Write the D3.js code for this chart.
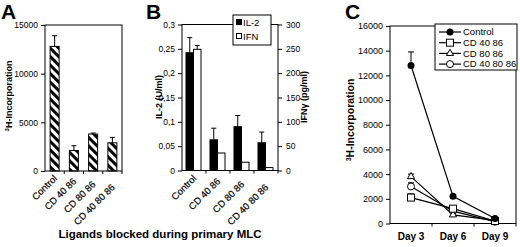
<!DOCTYPE html>
<html>
<head>
<meta charset="utf-8">
<script src="https://cdn.jsdelivr.net/npm/d3@7"></script>
<style>
body { margin: 0; background: #fff; }
svg { display: block; font-family: "Liberation Sans", Arial, sans-serif; }
</style>
</head>
<body>
<div id="chart"></div>
<script>
// data
var ligands = ["Control", "CD 40 86", "CD 80 86", "CD 40 80 86"];
var prolif = [12800, 2100, 3800, 2900];
var prolifErr = [1100, 500, 100, 550];
var il2 = [0.242, 0.063, 0.090, 0.057];
var il2Err = [0.031, 0.024, 0.023, 0.022];
var ifn = [249, 36, 17, 6];
var ifnErr = [8, 0, 0, 0];
var days = ["Day 3", "Day 6", "Day 9"];
var cControl = [12800, 2200, 400];
var cCD4086 = [2100, 1200, 200];
var cCD8086 = [3800, 700, 250];
var cCD408086 = [3000, 1000, 150];
var cErrDay3 = [1100, 300, 200, 300];

var svg = d3.select("#chart").append("svg")
  .attr("width", 520).attr("height", 247);
svg.append("rect").attr("width", 520).attr("height", 247).attr("fill", "#fff");

var defs = svg.append("defs");
var pat = defs.append("pattern").attr("id", "hatch")
  .attr("patternUnits", "userSpaceOnUse")
  .attr("width", 6).attr("height", 6)
  .attr("patternTransform", "rotate(-45)");
pat.append("rect").attr("width", 6).attr("height", 6).attr("fill", "#fff");
pat.append("rect").attr("width", 3).attr("height", 6).attr("fill", "#000");

var intFmt = d3.format("d");

function frame(g, x0, x1, y0, y1) {
  g.append("rect").attr("x", x0).attr("y", y0)
    .attr("width", x1 - x0).attr("height", y1 - y0)
    .attr("fill", "none").attr("stroke", "#000").attr("stroke-width", 1);
}
function styleAxis(g, fs) {
  g.select(".domain").remove();
  g.selectAll("line").attr("stroke", "#000");
  g.selectAll("text").attr("font-size", fs).attr("fill", "#000");
}
function rotLabels(g, x, cats, y0) {
  g.selectAll("text.cat").data(cats).enter().append("text")
    .attr("class", "cat")
    .attr("text-anchor", "end")
    .attr("font-size", 9.5)
    .attr("stroke", "#000").attr("stroke-width", 0.2)
    .attr("transform", function (d, i) {
      return "translate(" + (x(d) + x.bandwidth() / 2 + 3) + "," + (y0 + i * 3) + ") rotate(-45)";
    })
    .text(function (d) { return d; });
}
function errBar(g, cx, yTop, yBot, w) {
  g.append("line").attr("x1", cx).attr("x2", cx).attr("y1", yBot).attr("y2", yTop)
    .attr("stroke", "#000");
  g.append("line").attr("x1", cx - w).attr("x2", cx + w).attr("y1", yTop).attr("y2", yTop)
    .attr("stroke", "#000");
}
function panelLetter(x, t) {
  svg.append("text").attr("x", x).attr("y", 19).attr("font-size", 21)
    .attr("font-weight", "bold").text(t);
}

// ---------- panel A ----------
var gA = svg.append("g");
var xA = d3.scaleBand().domain(ligands).range([45, 122]);
var yA = d3.scaleLinear().domain([0, 15000]).range([171, 25]);
var barW = 9;
ligands.forEach(function (c, i) {
  var cx = xA(c) + xA.bandwidth() / 2;
  errBar(gA, cx, yA(prolif[i] + prolifErr[i]), yA(prolif[i]), 2.5);
});
gA.selectAll("rect.bar").data(prolif).enter().append("rect")
  .attr("x", function (d, i) { return xA(ligands[i]) + (xA.bandwidth() - barW) / 2; })
  .attr("y", function (d) { return yA(d); })
  .attr("width", barW)
  .attr("height", function (d) { return yA(0) - yA(d); })
  .attr("fill", "url(#hatch)").attr("stroke", "#000");
frame(gA, 45, 122, 25, 171);
gA.append("g").attr("transform", "translate(45,0)")
  .call(d3.axisLeft(yA).tickValues([0, 5000, 10000, 15000]).tickFormat(intFmt).tickSize(4).tickPadding(3))
  .call(styleAxis, 8.5);
gA.selectAll("line.xt").data(ligands).enter().append("line")
  .attr("x1", function (d, i) { return 45 + (i + 1) * xA.bandwidth(); })
  .attr("x2", function (d, i) { return 45 + (i + 1) * xA.bandwidth(); })
  .attr("y1", 171).attr("y2", 174).attr("stroke", "#000");
rotLabels(gA, xA, ligands, 179);
gA.append("text").attr("transform", "translate(12,96) rotate(-90)")
  .attr("text-anchor", "middle").attr("font-size", 9).attr("font-weight", "bold")
  .html("<tspan font-size='6' dy='-3'>3</tspan><tspan dy='3'>H-Incorporation</tspan>");
panelLetter(1, "A");

// ---------- panel B ----------
var gB = svg.append("g");
var xB = d3.scaleBand().domain(ligands).range([182, 278]);
var yBL = d3.scaleLinear().domain([0, 0.3]).range([170.5, 24.5]);
var yBR = d3.scaleLinear().domain([0, 300]).range([170.5, 24.5]);
var bW = 7.5;
ligands.forEach(function (c, i) {
  var x0 = xB(c) + 4;
  errBar(gB, x0 + bW / 2, yBL(il2[i] + il2Err[i]), yBL(il2[i]), 2.5);
  if (ifnErr[i] > 0) errBar(gB, x0 + bW * 1.5, yBR(ifn[i] + ifnErr[i]), yBR(ifn[i]), 2.5);
});
gB.selectAll("rect.il2").data(il2).enter().append("rect")
  .attr("x", function (d, i) { return xB(ligands[i]) + 4; })
  .attr("y", function (d) { return yBL(d); })
  .attr("width", bW).attr("height", function (d) { return yBL(0) - yBL(d); })
  .attr("fill", "#000").attr("stroke", "#000");
gB.selectAll("rect.ifn").data(ifn).enter().append("rect")
  .attr("x", function (d, i) { return xB(ligands[i]) + 4 + bW; })
  .attr("y", function (d) { return yBR(d); })
  .attr("width", bW).attr("height", function (d) { return yBR(0) - yBR(d); })
  .attr("fill", "#fff").attr("stroke", "#000");
frame(gB, 182, 278, 24.5, 170.5);
var commaFmt = function (d) { return d === 0 ? "0" : String(+d.toFixed(2)).replace(".", ","); };
gB.append("g").attr("transform", "translate(182,0)")
  .call(d3.axisLeft(yBL).tickValues([0, 0.05, 0.1, 0.15, 0.2, 0.25, 0.3]).tickFormat(commaFmt).tickSize(4).tickPadding(3))
  .call(styleAxis, 8.5);
gB.append("g").attr("transform", "translate(278,0)")
  .call(d3.axisRight(yBR).tickValues([0, 50, 100, 150, 200, 250, 300]).tickSize(4).tickPadding(4))
  .call(styleAxis, 8.5);
gB.selectAll("line.xt").data(ligands).enter().append("line")
  .attr("x1", function (d, i) { return 182 + (i + 1) * xB.bandwidth(); })
  .attr("x2", function (d, i) { return 182 + (i + 1) * xB.bandwidth(); })
  .attr("y1", 170.5).attr("y2", 173.5).attr("stroke", "#000");
rotLabels(gB, xB, ligands, 179);
gB.append("text").attr("transform", "translate(162,97) rotate(-90)")
  .attr("text-anchor", "middle").attr("font-size", 9).attr("font-weight", "bold")
  .text("IL-2 (U/ml)");
gB.append("text").attr("transform", "translate(307,97) rotate(-90)")
  .attr("text-anchor", "middle").attr("font-size", 9).attr("font-weight", "bold")
  .text("IFNγ (pg/ml)");
panelLetter(146, "B");
// legend B
var lgB = gB.append("g");
lgB.append("rect").attr("x", 233).attr("y", 15).attr("width", 38).attr("height", 30)
  .attr("fill", "#fff").attr("stroke", "#000");
lgB.append("rect").attr("x", 236).attr("y", 19).attr("width", 6).attr("height", 6).attr("fill", "#000");
lgB.append("text").attr("x", 243).attr("y", 25.5).attr("font-size", 9.5).text("IL-2");
lgB.append("rect").attr("x", 236.5).attr("y", 33.5).attr("width", 5).attr("height", 5)
  .attr("fill", "#fff").attr("stroke", "#000");
lgB.append("text").attr("x", 243).attr("y", 40).attr("font-size", 9.5).text("IFN");

svg.append("text").attr("x", 160).attr("y", 238).attr("text-anchor", "middle")
  .attr("font-size", 11.5).attr("font-weight", "bold")
  .text("Ligands blocked during primary MLC");

// ---------- panel C ----------
var gC = svg.append("g");
var xC = d3.scaleBand().domain(days).range([390, 516]);
var yC = d3.scaleLinear().domain([0, 16000]).range([223.5, 26]);
var seriesC = [
  { name: "Control", vals: cControl, shape: "dot" },
  { name: "CD 40 86", vals: cCD4086, shape: "square" },
  { name: "CD 80 86", vals: cCD8086, shape: "triangle" },
  { name: "CD 40 80 86", vals: cCD408086, shape: "circle" }
];
var cx = function (d) { return xC(d) + xC.bandwidth() / 2; };
var line = d3.line().x(function (d, i) { return cx(days[i]); }).y(function (d) { return yC(d); });
frame(gC, 390, 516, 26, 223.5);
gC.append("g").attr("transform", "translate(390,0)")
  .call(d3.axisLeft(yC).tickValues(d3.range(0, 16001, 2000)).tickFormat(intFmt).tickSize(4).tickPadding(3))
  .call(styleAxis, 9);
gC.append("g").attr("transform", "translate(0,223.5)")
  .call(d3.axisBottom(xC).tickSize(0).tickPadding(9))
  .call(styleAxis, 10)
  .selectAll("text").attr("font-weight", "bold");
gC.selectAll("line.xt").data(days).enter().append("line")
  .attr("x1", function (d, i) { return 390 + (i + 1) * xC.bandwidth(); })
  .attr("x2", function (d, i) { return 390 + (i + 1) * xC.bandwidth(); })
  .attr("y1", 223.5).attr("y2", 226.5).attr("stroke", "#000");
seriesC.forEach(function (s, k) {
  errBar(gC, cx(days[0]), yC(s.vals[0] + cErrDay3[k]), yC(s.vals[0]), 3);
});
function marker(g, shape, x, y) {
  if (shape === "dot") {
    g.append("circle").attr("cx", x).attr("cy", y).attr("r", 3.5).attr("fill", "#000");
  } else if (shape === "circle") {
    g.append("circle").attr("cx", x).attr("cy", y).attr("r", 3.5).attr("fill", "#fff").attr("stroke", "#000");
  } else if (shape === "square") {
    g.append("rect").attr("x", x - 3.5).attr("y", y - 3.5).attr("width", 7).attr("height", 7)
      .attr("fill", "#fff").attr("stroke", "#000");
  } else {
    g.append("path").attr("d", d3.symbol(d3.symbolTriangle, 22)()).attr("transform", "translate(" + x + "," + y + ")")
      .attr("fill", "#fff").attr("stroke", "#000");
  }
}
seriesC.forEach(function (s) {
  gC.append("path").datum(s.vals).attr("d", line)
    .attr("fill", "none").attr("stroke", "#000").attr("stroke-width", 1.2);
});
seriesC.slice().reverse().forEach(function (s) {
  s.vals.forEach(function (v, i) { marker(gC, s.shape, cx(days[i]), yC(v)); });
});
gC.append("text").attr("transform", "translate(354,120) rotate(-90)")
  .attr("text-anchor", "middle").attr("font-size", 10.5).attr("font-weight", "bold")
  .html("<tspan font-size='7' dy='-3.5'>3</tspan><tspan dy='3.5'>H-Incorporation</tspan>");
panelLetter(345, "C");
// legend C
var lgC = gC.append("g");
lgC.append("rect").attr("x", 435).attr("y", 24).attr("width", 82).attr("height", 46)
  .attr("fill", "#fff").attr("stroke", "#000");
seriesC.forEach(function (s, k) {
  var ly = 32 + k * 10.7;
  lgC.append("line").attr("x1", 439).attr("x2", 461).attr("y1", ly).attr("y2", ly)
    .attr("stroke", "#000").attr("stroke-width", 1.2);
  marker(lgC, s.shape, 450, ly);
  lgC.append("text").attr("x", 463).attr("y", ly + 3.3).attr("font-size", 9.5).text(s.name);
});
</script>
</body>
</html>
